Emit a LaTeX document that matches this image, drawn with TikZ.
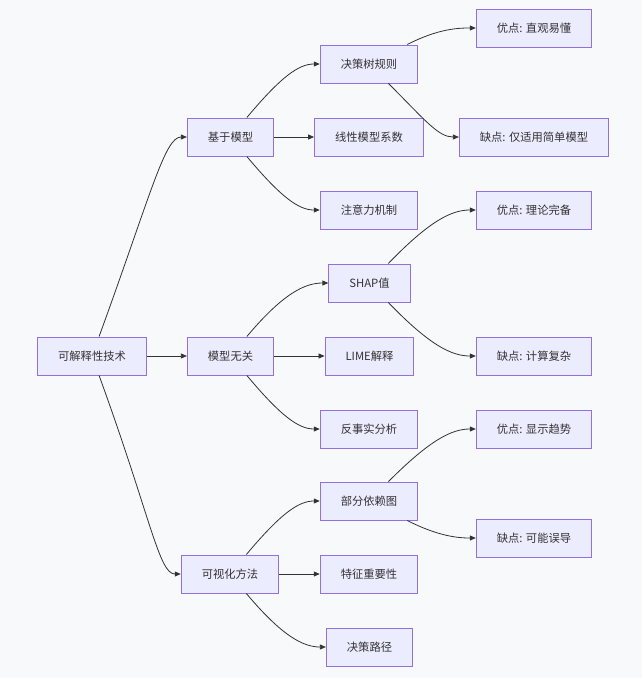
\documentclass[tikz,border=0pt]{standalone}
\usepackage{fontspec}
\setmainfont{Noto Sans CJK SC}
\usetikzlibrary{arrows.meta}

\definecolor{boxfill}{HTML}{ECECFF}
\definecolor{boxline}{HTML}{9370DB}
\definecolor{inkgray}{HTML}{333333}
\definecolor{pagebg}{HTML}{F8F9FA}

\tikzset{
	box/.style={rectangle, draw=boxline, fill=boxfill, line width=1pt, text=inkgray,
		inner xsep=20.5pt, inner ysep=0pt, minimum height=38pt,
		font=\fontsize{11.3}{13}\selectfont},
	link/.style={draw=inkgray, line width=0.8pt, -{Triangle[length=6pt,width=5pt]}},
	curvy/.style={link, in=180, out looseness=1.5, in looseness=0.6}
}

\begin{document}
\begin{tikzpicture}[x=1pt, y=-1pt]

	\fill[pagebg] (0, 0) rectangle (642, 678);
	\useasboundingbox (0, 0) rectangle (642, 678);

	\node[box] (root) at (92, 356) {可解释性技术};

	\node[box] (model) at (230.5, 137) {基于模型};
	\node[box] (agnostic) at (230.5, 356) {模型无关};
	\node[box] (visual) at (230, 574) {可视化方法};

	\node[box] (tree) at (369, 64) {决策树规则};
	\node[box] (linear) at (369, 137) {线性模型系数};
	\node[box] (attn) at (369, 210) {注意力机制};
	\node[box] (shap) at (369.5, 283) {SHAP值};
	\node[box] (lime) at (369.5, 356) {LIME解释};
	\node[box] (cf) at (369, 429) {反事实分析};
	\node[box] (pdp) at (369, 501) {部分依赖图};
	\node[box] (fi) at (369, 574) {特征重要性};
	\node[box] (path) at (369.5, 647) {决策路径};

	\node[box] (treepro) at (534, 28) {优点: 直观易懂};
	\node[box] (treecon) at (534, 137) {缺点: 仅适用简单模型};
	\node[box] (shappro) at (534, 210) {优点: 理论完备};
	\node[box] (shapcon) at (534, 356) {缺点: 计算复杂};
	\node[box] (pdppro) at (534, 429) {优点: 显示趋势};
	\node[box] (pdpcon) at (534, 538) {缺点: 可能误导};

	\draw[curvy] (root) to[out=70, out looseness=1.8, in looseness=0.26] (model);
	\draw[link] (root) -- (agnostic);
	\draw[curvy] (root) to[out=-70, out looseness=1.8, in looseness=0.26] (visual);

	\draw[curvy] (model) to[out=50] (tree);
	\draw[link] (model) -- (linear);
	\draw[curvy] (model) to[out=-50] (attn);

	\draw[curvy] (agnostic) to[out=50] (shap);
	\draw[link] (agnostic) -- (lime);
	\draw[curvy] (agnostic) to[out=-50] (cf);

	\draw[curvy] (visual) to[out=50] (pdp);
	\draw[link] (visual) -- (fi);
	\draw[curvy] (visual) to[out=-50] (path);

	\draw[curvy] (tree) to[out=27, out looseness=1.3] (treepro);
	\draw[curvy] (tree) to[out=-45] (treecon);
	\draw[curvy] (shap) to[out=46] (shappro);
	\draw[curvy] (shap) to[out=-46] (shapcon);
	\draw[curvy] (pdp) to[out=45] (pdppro);
	\draw[curvy] (pdp) to[out=-27, out looseness=1.3] (pdpcon);
\end{tikzpicture}
\end{document}
